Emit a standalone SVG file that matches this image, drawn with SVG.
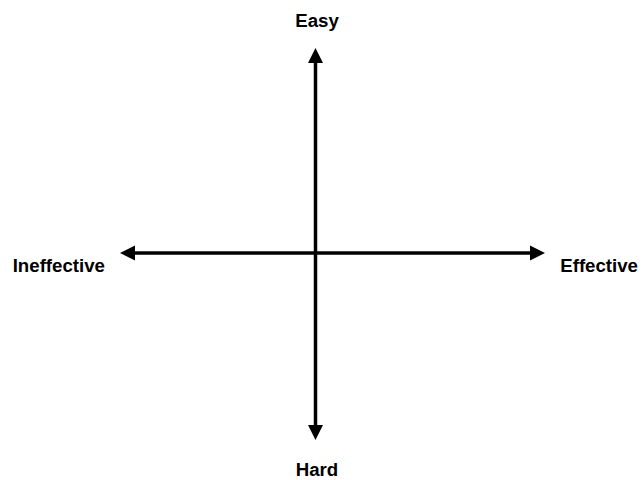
<svg xmlns="http://www.w3.org/2000/svg" width="643" height="480" viewBox="0 0 643 480">
  <style>
    .lbl { font-family: "Liberation Sans", Arial, sans-serif; font-weight: bold; font-size: 18.67px; fill: #000; }
    .axis { stroke: #000; stroke-width: 3.5; fill: none; }
  </style>
  <defs>
    <marker id="ah" markerUnits="userSpaceOnUse" markerWidth="16" markerHeight="16" viewBox="0 -8 16 16" refX="0" refY="0" orient="auto-start-reverse">
      <path d="M0,-7.5 L15,0 L0,7.5 Z" fill="#000"/>
    </marker>
  </defs>
  <rect width="643" height="480" fill="#fff"/>
  <g id="connectors">
    <path class="axis" d="M315.5,425 L315.5,63" marker-start="url(#ah)" marker-end="url(#ah)"/>
    <path class="axis" d="M135,253 L530,253" marker-start="url(#ah)" marker-end="url(#ah)"/>
  </g>
  <g id="easy"><text class="lbl" x="317" y="26.7" text-anchor="middle">Easy</text></g>
  <g id="hard"><text class="lbl" x="317" y="475.5" text-anchor="middle">Hard</text></g>
  <g id="ineffective"><text class="lbl" x="12.7" y="271.5">Ineffective</text></g>
  <g id="effective"><text class="lbl" x="638" y="271.5" text-anchor="end">Effective</text></g>
</svg>
